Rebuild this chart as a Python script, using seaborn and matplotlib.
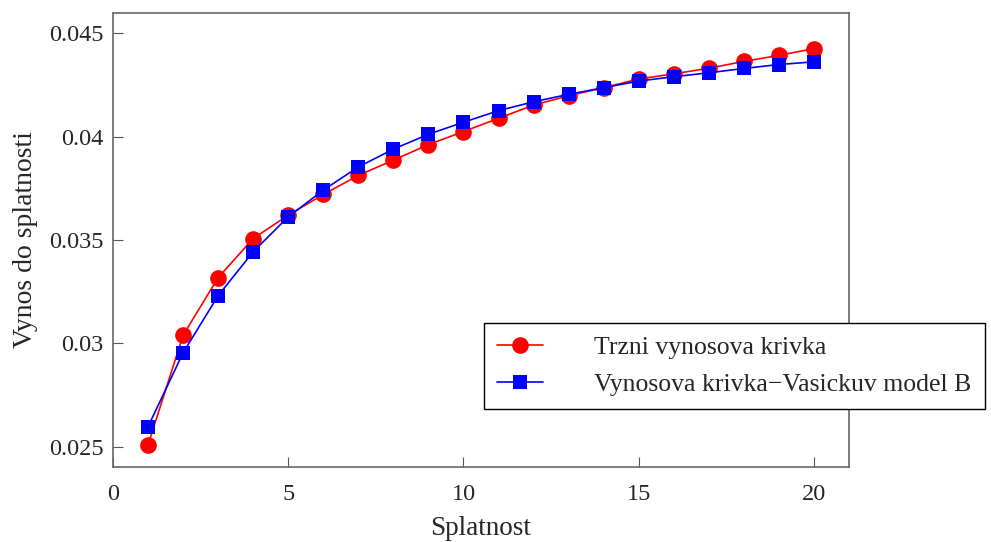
import numpy as np
import pandas as pd
import matplotlib
matplotlib.use("Agg")
import matplotlib.pyplot as plt
import seaborn as sns

maturity = list(range(1, 21))
market_yield = [0.02510, 0.03040, 0.03318, 0.03507, 0.03620, 0.03720, 0.03812, 0.03886, 0.03961, 0.04024,
                0.04088, 0.04152, 0.04197, 0.04236, 0.04278, 0.04303, 0.04330, 0.04363, 0.04392, 0.04425]
vasicek_yield = [0.02598, 0.02955, 0.03231, 0.03443, 0.03612, 0.03741, 0.03853, 0.03939, 0.04011, 0.04069,
                 0.04125, 0.04168, 0.04204, 0.04236, 0.04268, 0.04289, 0.04308, 0.04329, 0.04348, 0.04361]
labels = ["Trzni vynosova krivka", "Vynosova krivka\u2212Vasickuv model B"]
xticks = [0, 5, 10, 15, 20]
yticks = [0.025, 0.03, 0.035, 0.04, 0.045]

sns.set_style("white")
plt.rcParams['font.family'] = ['Liberation Serif', 'DejaVu Serif']

fig = plt.figure(figsize=(9.91, 5.42), dpi=100)
ax = fig.add_axes([113/991, 1-467/542, (849-113)/991, (467-13)/542])

df1 = pd.DataFrame({"x": maturity, "y": market_yield})
df2 = pd.DataFrame({"x": maturity, "y": vasicek_yield})
sns.lineplot(data=df1, x="x", y="y", ax=ax, color="#ff0000", marker="o", markersize=12,
             markeredgewidth=0, linewidth=1.2, label=labels[0])
sns.lineplot(data=df2, x="x", y="y", ax=ax, color="#0000ff", marker="s", markersize=10,
             markeredgewidth=0, linewidth=1.2, label=labels[1])

ax.set_xlim(0, 21)
ax.set_ylim(0.02403, 0.04597)
ax.set_xticks(xticks)
ax.set_yticks(yticks)
ax.set_yticklabels([f"{v:g}" for v in yticks])
ax.set_xticklabels([str(v) for v in xticks])
ax.tick_params(axis='both', direction='in', length=7, width=0.8, color='#555555',
               labelsize=17.5, bottom=True, left=True, top=False, right=False, pad=7)
ax.tick_params(axis='x', pad=12)
for s in ax.spines.values():
    s.set_color('#666666')
    s.set_linewidth(1.2)
ax.set_xlabel("Splatnost", fontsize=19.5, labelpad=8)
ax.set_ylabel("Vynos do splatnosti", fontsize=20, labelpad=8)

leg = ax.legend(loc='lower left', bbox_to_anchor=((484-113)/736, (467-409)/454, (985-484)/736, 87/454),
                mode='expand', fontsize=18.5, frameon=True, fancybox=False, handlelength=1.8,
                handletextpad=2.0, borderpad=0.5, labelspacing=0.55, borderaxespad=0)
leg.get_frame().set_edgecolor('black')
leg.get_frame().set_linewidth(1.0)
leg.get_frame().set_alpha(1)

fig.savefig("out.png", dpi=100)
